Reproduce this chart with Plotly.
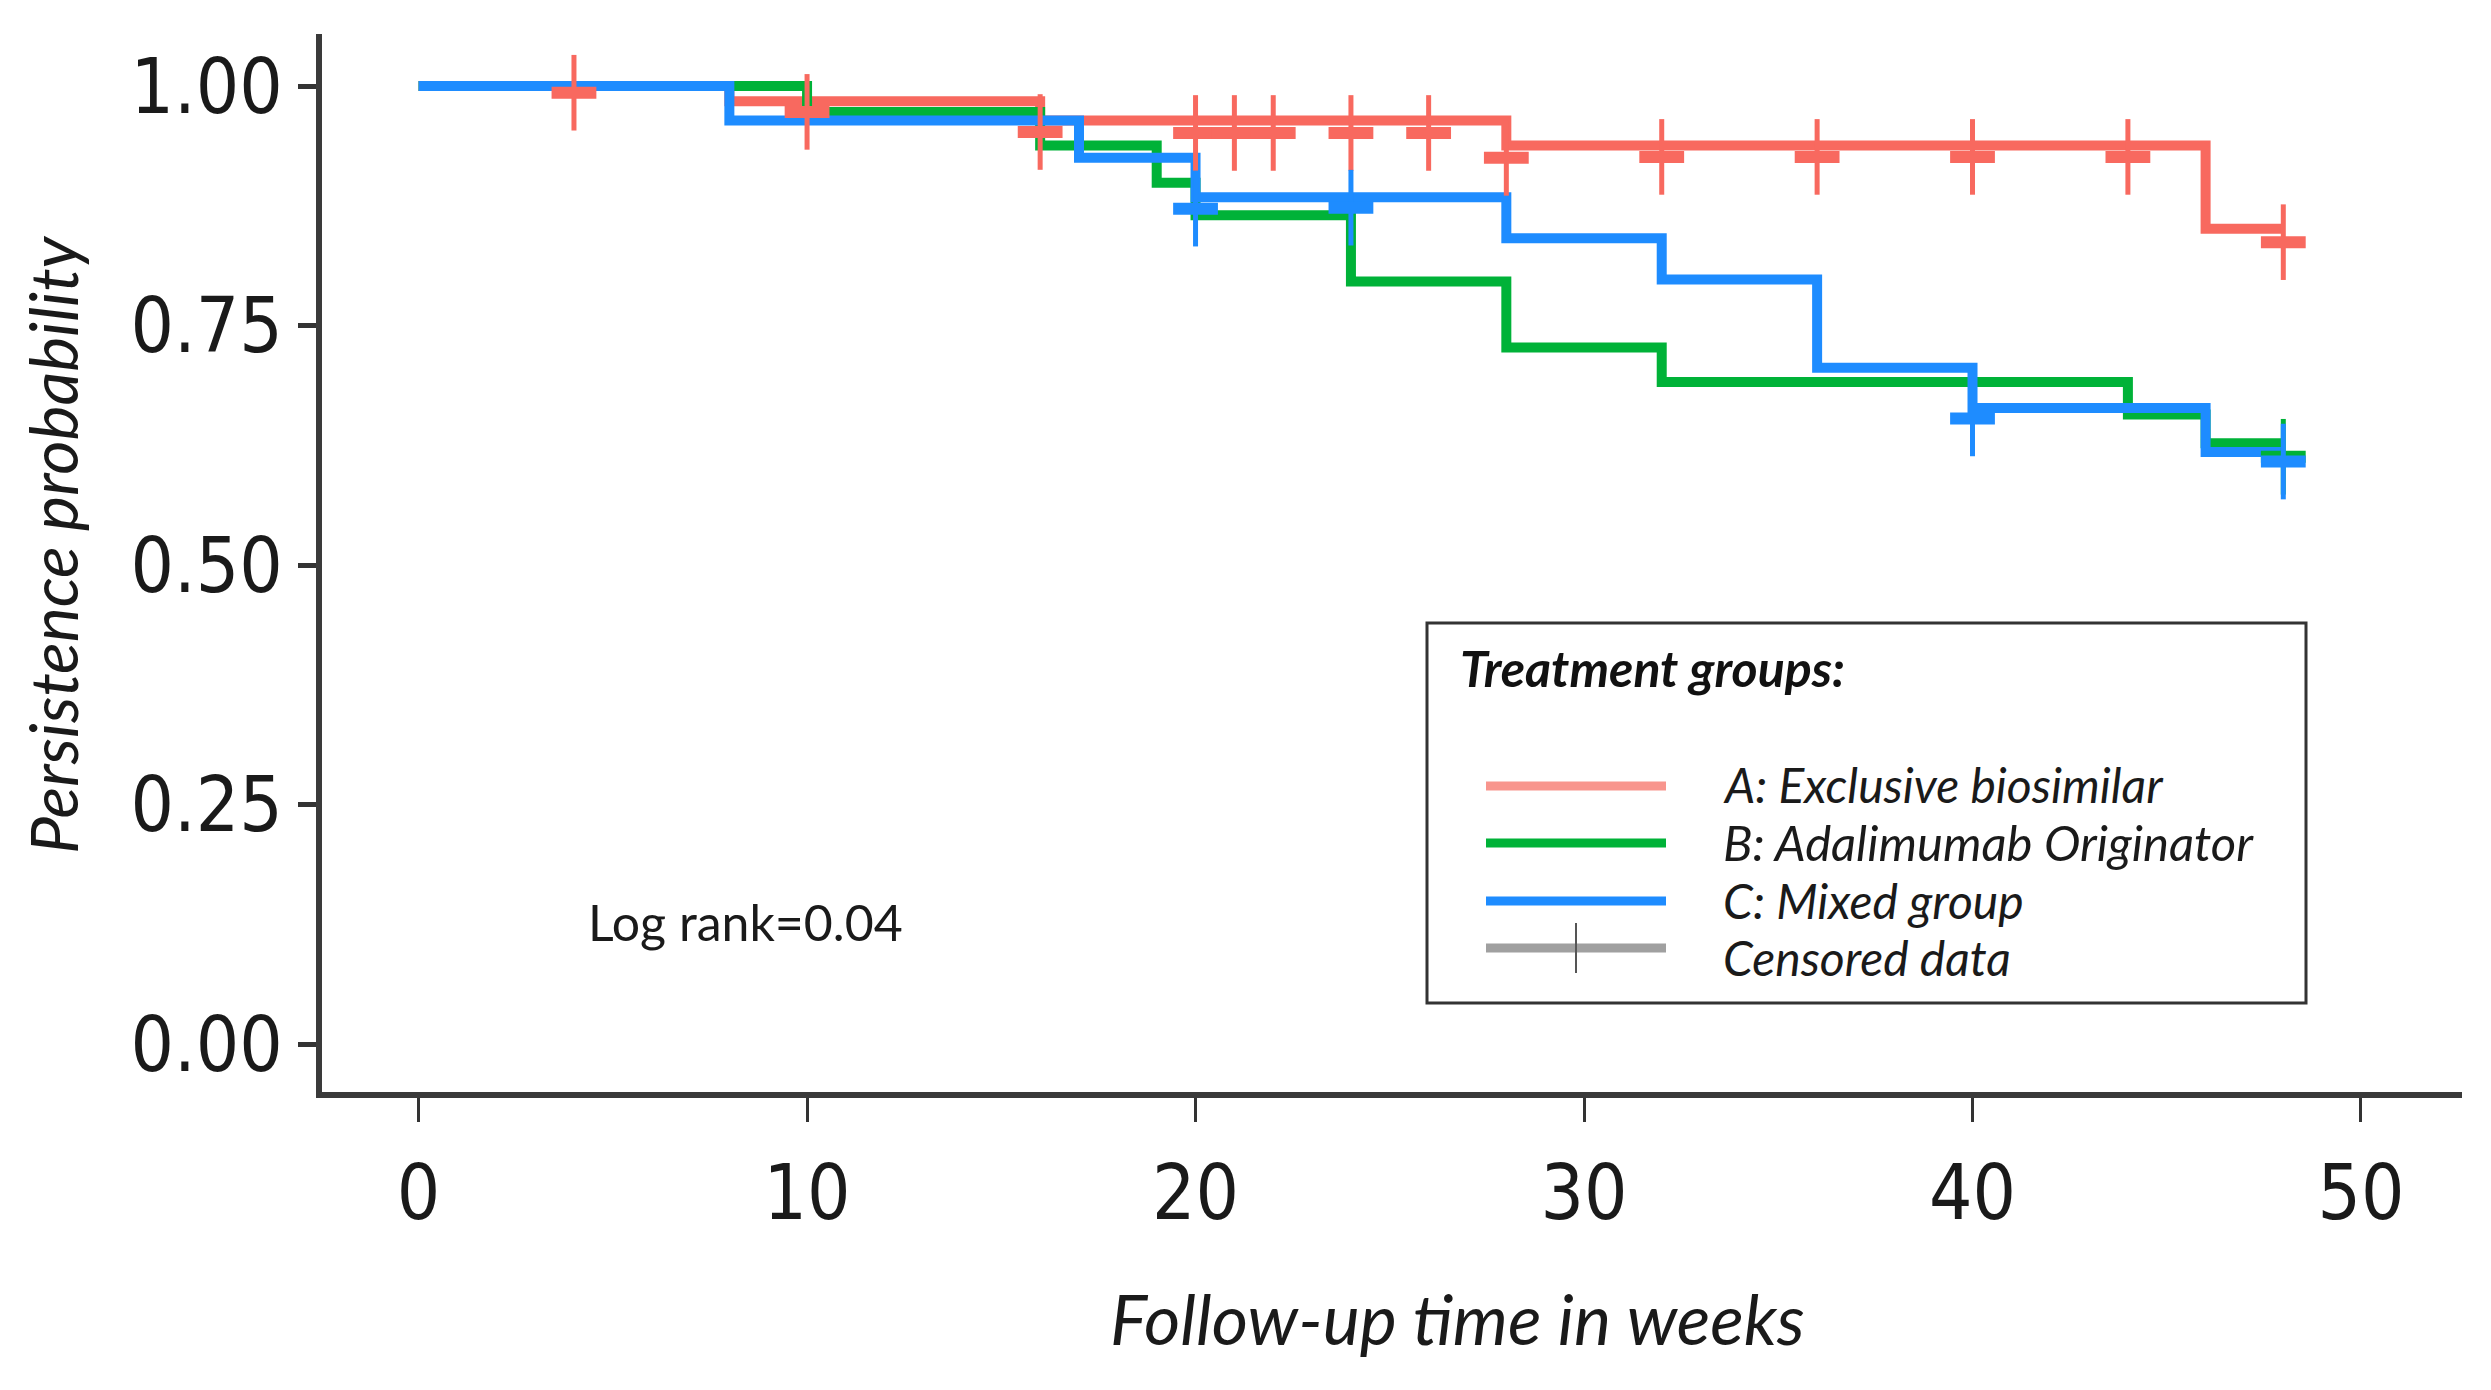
import plotly.graph_objects as go

# ---------------- data ----------------
x_ticks = [0, 10, 20, 30, 40, 50]
y_ticks = [0.0, 0.25, 0.50, 0.75, 1.0]
y_ticktext = ["0.00", "0.25", "0.50", "0.75", "1.00"]

group_names = ["A: Exclusive biosimilar", "B: Adalimumab Originator", "C: Mixed group"]

a_time = [0, 8, 16, 28, 46, 48]
a_surv = [1.0, 0.984, 0.964, 0.938, 0.851, 0.851]
a_cens_time = [4, 10, 16, 20, 21, 22, 24, 26, 28, 32, 36, 40, 44, 48]
a_cens_surv = [0.993, 0.973, 0.952, 0.951, 0.951, 0.951, 0.951, 0.951, 0.925, 0.926, 0.926, 0.926, 0.926, 0.837]

b_time = [0, 10, 16, 19, 20, 24, 28, 32, 44, 46, 48]
b_surv = [1.0, 0.973, 0.938, 0.899, 0.865, 0.796, 0.727, 0.691, 0.657, 0.627, 0.627]
b_cens_time = [48]
b_cens_surv = [0.613]

c_time = [0, 8, 17, 20, 28, 32, 36, 40, 46, 48]
c_surv = [1.0, 0.964, 0.925, 0.884, 0.841, 0.798, 0.706, 0.664, 0.618, 0.618]
c_cens_time = [20, 24, 40, 48]
c_cens_surv = [0.872, 0.873, 0.653, 0.608]

colors = ["#F8695F", "#00B238", "#1E8CFF"]
legend_a_color = "#F8958D"

# ---------------- layout geometry (window pixels) ----------------
W, H = 2491, 1390
OFF = 8                               # page body margin
PL, PR, PT, PB = 322, 2462, 34, 1092  # plot area in window pixels
FW, FH = W - 2 * OFF, H - 2 * OFF


def px(x):
    return (x - PL) / (PR - PL)


def py(y):
    return (PB - y) / (PB - PT)


fig = go.Figure()

series = [
    (a_time, a_surv, a_cens_time, a_cens_surv),
    (b_time, b_surv, b_cens_time, b_cens_surv),
    (c_time, c_surv, c_cens_time, c_cens_surv),
]

for (t, s, ct, cs), col, name in zip(series, colors, group_names):
    fig.add_trace(go.Scatter(
        x=t, y=s, mode="lines", name=name,
        line=dict(color=col, width=10, shape="hv"),
        hoverinfo="skip", showlegend=False,
    ))

for (t, s, ct, cs), col, name in zip(series, colors, group_names):
    # censor "+" marks: tall thin vertical arm + short thick horizontal arm
    fig.add_trace(go.Scatter(
        x=ct, y=cs, mode="markers", showlegend=False, hoverinfo="skip",
        marker=dict(symbol="line-ns", size=54, line=dict(color=col, width=5)),
    ))
    fig.add_trace(go.Scatter(
        x=ct, y=cs, mode="markers", showlegend=False, hoverinfo="skip",
        marker=dict(symbol="line-ew", size=32, line=dict(color=col, width=12)),
    ))

tick_font = dict(family="Liberation Sans Narrow, Arial Narrow, DejaVu Sans Condensed, "
                        "Roboto Condensed, Liberation Sans, sans-serif",
                 size=76, color="#1a1a1a")

fig.update_layout(
    width=FW, height=FH,
    margin=dict(l=PL - OFF, r=FW - (PR - OFF), t=PT - OFF, b=FH - (PB - OFF), pad=0),
    paper_bgcolor="white", plot_bgcolor="white",
    showlegend=False,
    xaxis=dict(
        range=[-2.486, 52.60], tickmode="array", tickvals=x_ticks,
        ticktext=[str(v) for v in x_ticks],
        showgrid=False, zeroline=False,
        showline=True, linecolor="#3a3a3a", linewidth=6,
        ticks="outside", ticklen=24, tickwidth=3, tickcolor="#333",
        tickfont=tick_font, ticklabelstandoff=6,
    ),
    yaxis=dict(
        range=[-0.0501, 1.0543], tickmode="array", tickvals=y_ticks,
        ticktext=y_ticktext,
        showgrid=False, zeroline=False,
        showline=True, linecolor="#3a3a3a", linewidth=6,
        ticks="outside", ticklen=18, tickwidth=5, tickcolor="#333",
        tickfont=tick_font, ticklabelstandoff=0,
    ),
)

txt_font = "Lato, Open Sans, sans-serif"
annotations = [
    dict(text="<i>Persistence probability</i>", x=px(52), y=py(545), textangle=-90,
         font=dict(family=txt_font, size=66, color="#1a1a1a")),
    dict(text="<i>Follow-up time in weeks</i>", x=px(1457), y=py(1318),
         font=dict(family=txt_font, size=70, color="#1a1a1a")),
    dict(text="Log rank=0.04", x=px(745), y=py(922),
         font=dict(family=txt_font, size=50, color="#1a1a1a")),
    dict(text="<b><i>Treatment groups:</i></b>", x=px(1458), y=py(668), xanchor="left",
         font=dict(family=txt_font, size=50, color="#111")),
]
legend_labels = group_names + ["Censored data"]
legend_text_y = [784, 842, 900, 957]
legend_text_size = [48, 49, 48, 48]
for lab, yy, sz in zip(legend_labels, legend_text_y, legend_text_size):
    annotations.append(dict(text="<i>" + lab + "</i>", x=px(1721), y=py(yy), xanchor="left",
                            font=dict(family=txt_font, size=sz, color="#1a1a1a")))

for a in annotations:
    a.setdefault("xanchor", "center")
    a.update(xref="paper", yref="paper", yanchor="middle", showarrow=False)
fig.update_layout(annotations=annotations)

shapes = [
    dict(type="rect", xref="paper", yref="paper", x0=px(1427), x1=px(2306), y0=py(1003), y1=py(623),
         line=dict(color="#333", width=3), fillcolor="rgba(255,255,255,0)"),
]
legend_line_colors = [legend_a_color, colors[1], colors[2], "#A0A0A0"]
legend_line_y = [786, 843, 901, 948]
for col, yy in zip(legend_line_colors, legend_line_y):
    shapes.append(dict(type="line", xref="paper", yref="paper", x0=px(1486), x1=px(1666),
                       y0=py(yy), y1=py(yy), line=dict(color=col, width=9)))
shapes.append(dict(type="line", xref="paper", yref="paper", x0=px(1576), x1=px(1576),
                   y0=py(923), y1=py(973), line=dict(color="#555", width=2)))
fig.update_layout(shapes=shapes)

fig.write_html("out.html", config={"displayModeBar": False})
